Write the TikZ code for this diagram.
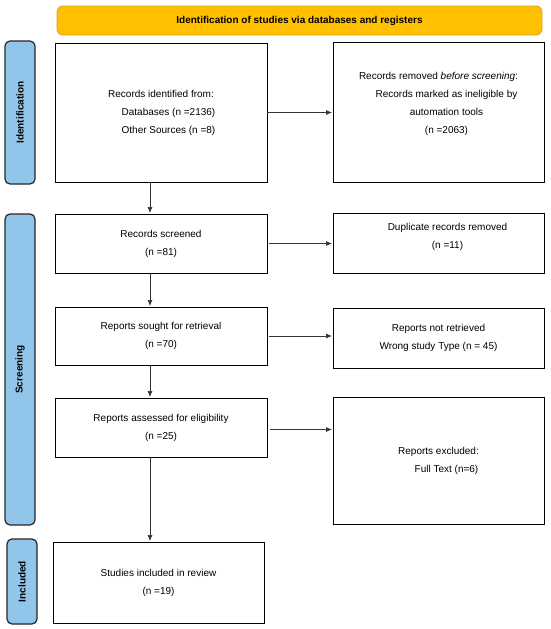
\documentclass[tikz,border=0pt]{standalone}
\usepackage{fontspec}
\setmainfont{Liberation Sans}
\usetikzlibrary{arrows.meta}
\definecolor{bannergold}{HTML}{FFC000}
\definecolor{bannerline}{HTML}{D9A21B}
\definecolor{barblue}{HTML}{92C5EA}

\begin{document}
\begin{tikzpicture}[x=1pt, y=-1pt,
		box/.style = {draw, line width=1pt, minimum width=212, align=center, inner sep=0pt, outer sep=0pt, font=\fontsize{10}{18}\selectfont},
		txt/.style = {align=center, inner sep=0pt, font=\fontsize{10}{18}\selectfont},
		bar/.style = {draw=black!85, line width=1.2pt, fill=barblue, rounded corners=5pt, rotate=90, minimum height=30, inner sep=0pt, font=\bfseries\fontsize{10}{12}\selectfont},
		banner/.style = {draw=bannerline, line width=0.8pt, fill=bannergold, rounded corners=6pt, minimum width=485, minimum height=29, font=\bfseries\fontsize{10}{12}\selectfont},
		arr/.style = {-{Latex[length=6pt,width=5pt]}, line width=0.7pt, draw=black!80, shorten >=1pt}]
			\useasboundingbox[fill=white] (0,0) rectangle (550,629);
			% heading and phase bars
			\node[banner] (head) at (299.5,20.5) {Identification of studies via databases and registers};
			\node[bar, minimum width=143] (idbar) at (20,112.5) {Identification};
			\node[bar, minimum width=311] (scrbar) at (20,369.5) {Screening};
			\node[bar, minimum width=85] (incbar) at (22,581.5) {Included};
			% left column
			\node[box, minimum height=139] (ident) at (161,112.5) {Records identified from:\\ \hspace*{15pt}Databases (n =2136)\\ \hspace*{15pt}Other Sources (n =8)};
			\node[box, minimum height=59] (screen) at (161,243.5) {Records screened\\ (n =81)};
			\node[box, minimum height=58] (sought) at (161,336) {Reports sought for retrieval\\ (n =70)};
			\node[box, minimum height=59] (assess) at (161,427.5) {Reports assessed for eligibility\\ (n =25)};
			\node[box, minimum width=211, minimum height=81] (incl) at (158.5,582.5) {Studies included in review\\ (n =19)};
			% right column
			\node[box, minimum width=211, minimum height=140] (rem) at (438.5,112) {};
			\node[txt] (remtxt) at ([yshift=8.5pt]rem.center) {Records removed \textit{before screening}:\\ \hspace*{16pt}Records marked as ineligible by\\ \hspace*{16pt}automation tools\\ \hspace*{16pt}(n =2063)};
			\node[box, minimum width=211, minimum height=60] (dup) at (438.5,243) {};
			\node[txt] (duptxt) at ([shift={(9pt,6pt)}]dup.center) {Duplicate records removed\\ (n =11)};
			\node[box, minimum width=211, minimum height=60] (notret) at (438.5,338) {Reports not retrieved\\ Wrong study Type (n = 45)};
			\node[box, minimum width=211, minimum height=127] (excl) at (438.5,460.5) {Reports excluded:\\ \hspace*{16pt}Full Text (n=6)};
			% arrows
			\coordinate (spine) at (150,0);
			\draw[arr] (ident.south -| spine) -- (screen.north -| spine);
			\draw[arr] (screen.south -| spine) -- (sought.north -| spine);
			\draw[arr] (sought.south -| spine) -- (assess.north -| spine);
			\draw[arr] (assess.south -| spine) -- (incl.north -| spine);
			\draw[arr] (ident.east) -- (ident.east -| rem.west);
			\draw[arr] ([xshift=2pt]screen.east) -- (screen.east -| dup.west);
			\draw[arr] ([xshift=2pt]sought.east) -- (sought.east -| notret.west);
			\draw[arr] ([shift={(3pt,-2pt)}]assess.east) -- ([yshift=-2pt]assess.east -| excl.west);
			\end{tikzpicture}
\end{document}
